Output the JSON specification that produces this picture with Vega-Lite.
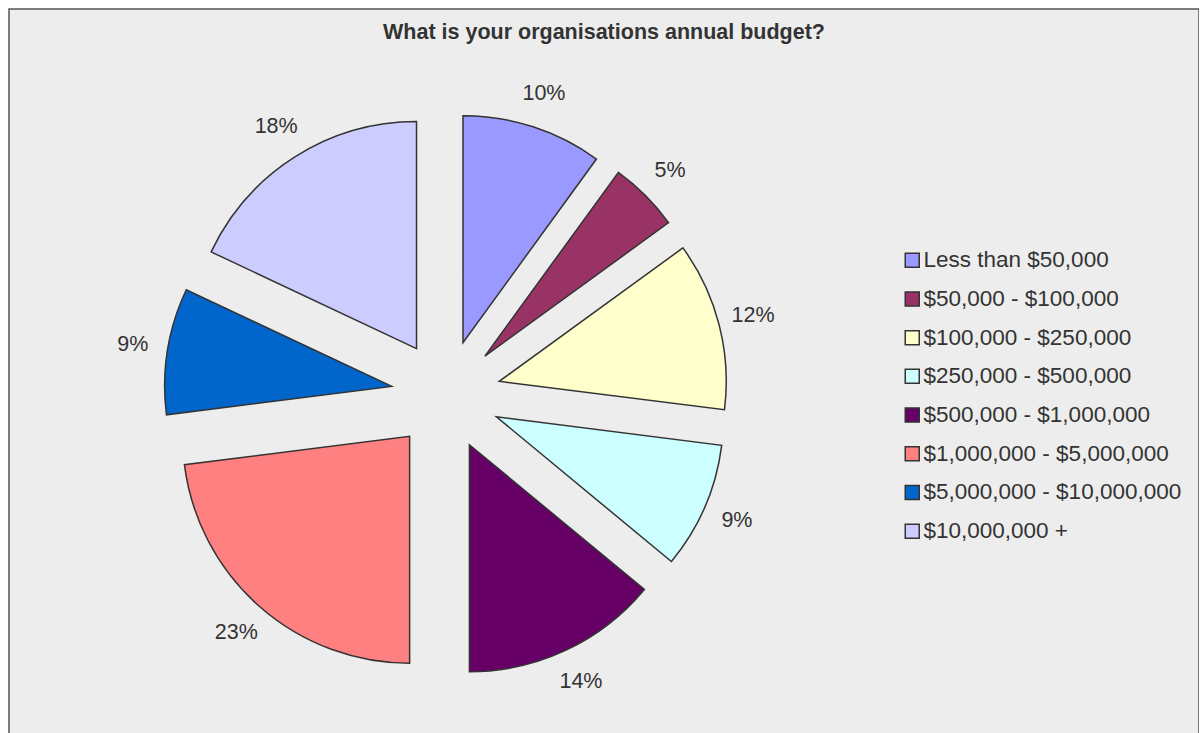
{
  "$schema": "https://vega.github.io/schema/vega-lite/v6.json",
  "autosize": "none",
  "width": 1190,
  "height": 740,
  "padding": {"left": 9, "top": 9, "right": 0, "bottom": 0},
  "background": "#ffffff",
  "title": {
    "text": "What is your organisations annual budget?",
    "anchor": "middle",
    "orient": "top",
    "offset": 0,
    "dy": 34,
    "font": "Liberation Sans",
    "fontSize": 21.5,
    "fontWeight": "bold",
    "color": "#333333"
  },
  "config": {
    "view": {"stroke": "#555555", "strokeWidth": 1.5, "fill": "#ededed"},
    "legend": {"padding": 0}
  },
  "data": {
    "values": [
      {"category": "Less than $50,000", "value": 10, "order": 1},
      {"category": "$50,000 - $100,000", "value": 5, "order": 2},
      {"category": "$100,000 - $250,000", "value": 12, "order": 3},
      {"category": "$250,000 - $500,000", "value": 9, "order": 4},
      {"category": "$500,000 - $1,000,000", "value": 14, "order": 5},
      {"category": "$1,000,000 - $5,000,000", "value": 23, "order": 6},
      {"category": "$5,000,000 - $10,000,000", "value": 9, "order": 7},
      {"category": "$10,000,000 +", "value": 18, "order": 8}
    ]
  },
  "transform": [
    {"window": [{"op": "sum", "field": "value", "as": "cum"}], "sort": [{"field": "order"}], "frame": [null, 0]},
    {"calculate": "datum.cum - datum.value", "as": "start"},
    {"calculate": "(datum.start + datum.cum) / 2", "as": "mid"},
    {"calculate": "55 * sin(datum.mid / 100 * 2 * PI)", "as": "dx"},
    {"calculate": "55 * cos(datum.mid / 100 * 2 * PI)", "as": "dy"},
    {"calculate": "datum.value + '%'", "as": "label"}
  ],
  "layer": [
    {
      "mark": {"type": "arc", "radius": 227, "stroke": "#333333", "strokeWidth": 1.5},
      "encoding": {
        "theta": {"field": "start", "type": "quantitative", "scale": {"domain": [0, 100], "zero": true, "nice": false}},
        "theta2": {"field": "cum"},
        "x": {"field": "dx", "type": "quantitative", "scale": {"domain": [-437, 753], "nice": false, "zero": false}, "axis": null},
        "y": {"field": "dy", "type": "quantitative", "scale": {"domain": [-354, 386], "nice": false, "zero": false}, "axis": null},
        "color": {
          "field": "category",
          "type": "nominal",
          "scale": {
            "domain": ["Less than $50,000", "$50,000 - $100,000", "$100,000 - $250,000", "$250,000 - $500,000", "$500,000 - $1,000,000", "$1,000,000 - $5,000,000", "$5,000,000 - $10,000,000", "$10,000,000 +"],
            "range": ["#9999ff", "#993366", "#ffffcc", "#ccffff", "#660066", "#ff8080", "#0066cc", "#ccccff"]
          },
          "legend": {
            "title": null,
            "orient": "none",
            "legendX": 892,
            "legendY": 240,
            "symbolType": "square",
            "symbolSize": 196,
            "symbolStrokeColor": "#333333",
            "symbolStrokeWidth": 1.5,
            "symbolOpacity": 1,
            "labelFont": "Liberation Sans",
            "labelFontSize": 22.5,
            "labelColor": "#333333",
            "labelOffset": 0,
            "labelLimit": 400,
            "rowPadding": 15.7
          }
        }
      }
    },
    {
      "mark": {"type": "text", "radius": 317, "font": "Liberation Sans", "fontSize": 21.5, "color": "#333333", "align": "center", "baseline": "middle"},
      "encoding": {
        "theta": {"field": "mid", "type": "quantitative"},
        "x": {"datum": 0, "type": "quantitative"},
        "y": {"datum": 0, "type": "quantitative"},
        "text": {"field": "label", "type": "nominal"}
      }
    }
  ]
}
